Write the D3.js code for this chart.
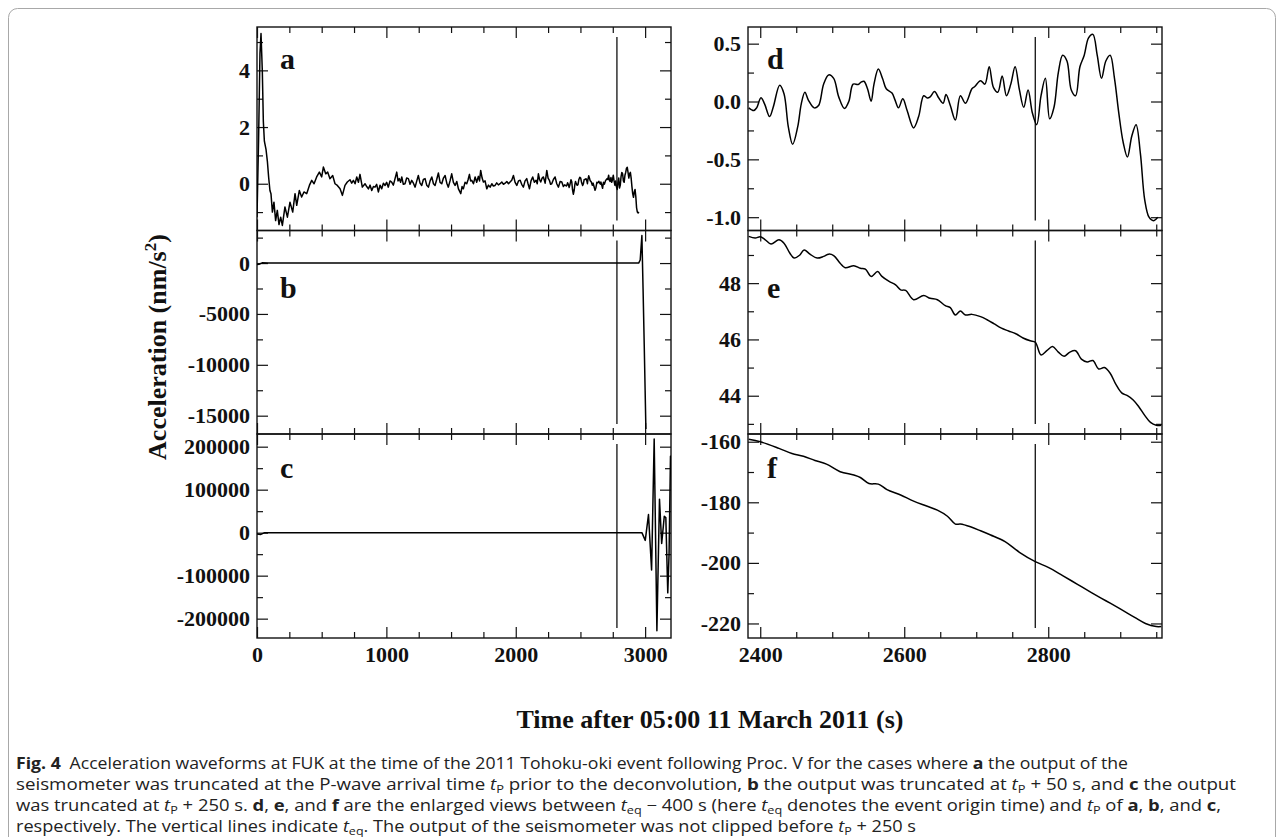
<!DOCTYPE html>
<html>
<head>
<meta charset="utf-8">
<script src="https://cdn.jsdelivr.net/npm/d3@7/dist/d3.min.js"></script>
<style>
  body { margin: 0; background: #fff; }
  .tick text { font-family: "Liberation Serif", "Times New Roman", serif; font-weight: bold; font-size: 22px; fill: #111; }
  .tick line { stroke: #111; stroke-width: 1.2; }
</style>
</head>
<body>
<svg id="fig" width="1284" height="837"></svg>
<script>
// time of event origin (s after 05:00)
const tEq = 2782;

// panel a, before the enlarged window (t, nm/s^2)
const traceAEarly = [
  [0, -1.18], [12, 1.5], [23, 4.6], [31, 5.3], [41, 4.0], [49, 2.2], [57, 1.5], [70, 1.2], [80, 0.8], [90, 0.23],
  [100, -0.24], [108, -0.35], [119, -1.0], [131, -0.65], [144, -1.3], [157, -0.94], [170, -1.44], [183, -1.18],
  [196, -1.47], [216, -0.82], [235, -1.18], [255, -0.65], [276, -1.0], [294, -0.35], [307, -0.76], [327, -0.24],
  [345, -0.47], [363, -0.29], [384, -0.35], [405, -0.06], [423, 0.12], [441, 0.0], [461, 0.24], [482, 0.41],
  [500, 0.24], [513, 0.59], [531, 0.35], [546, 0.41], [564, 0.18], [585, 0.29], [603, 0.0], [621, -0.06],
  [642, -0.18], [660, -0.41], [680, -0.06], [698, 0.06], [719, 0.14], [732, 0.02], [745, 0.12], [758, 0.0],
  [771, 0.24], [784, 0.05], [796, 0.33], [814, -0.12], [835, 0.0], [848, -0.1], [861, -0.18], [874, -0.05],
  [887, -0.24], [900, -0.1], [912, -0.12], [925, -0.02], [938, -0.29], [951, -0.05], [964, -0.18], [977, 0.02],
  [990, -0.06], [1002, 0.05], [1015, -0.12], [1028, 0.1], [1041, 0.06], [1054, -0.05], [1067, 0.18], [1080, 0.41],
  [1090, 0.1], [1100, 0.18], [1110, 0.05], [1119, 0.24], [1131, -0.02], [1144, 0.0], [1157, 0.2], [1170, 0.18],
  [1183, -0.02], [1196, 0.12], [1209, 0.02], [1222, -0.12], [1235, 0.1], [1247, 0.29], [1260, 0.02], [1273, -0.06],
  [1286, 0.15], [1299, 0.18], [1312, -0.05], [1325, -0.12], [1338, 0.1], [1351, 0.24], [1364, 0.0], [1376, -0.06],
  [1389, 0.15], [1402, 0.38], [1415, 0.05], [1428, 0.0], [1441, 0.2], [1454, 0.29], [1467, 0.02], [1479, -0.12],
  [1492, 0.1], [1505, 0.35], [1518, 0.05], [1531, -0.06], [1544, 0.08], [1557, -0.18], [1575, -0.35], [1585, -0.1],
  [1595, -0.18], [1608, 0.05], [1621, 0.0], [1632, 0.15], [1642, 0.33], [1651, 0.1], [1660, 0.12], [1673, 0.0],
  [1686, 0.24], [1698, 0.05], [1711, 0.26], [1720, 0.1], [1729, 0.47], [1740, 0.2], [1750, 0.06], [1763, 0.1],
  [1776, -0.18], [1789, -0.05], [1802, -0.12], [1815, 0.0], [1827, -0.08], [1840, -0.06], [1853, 0.03], [1866, -0.04],
  [1879, 0.0], [1892, 0.06], [1905, -0.02], [1918, 0.02], [1931, 0.08], [1944, 0.0], [1956, 0.06], [1969, 0.12],
  [1982, 0.29], [1995, 0.05], [2008, -0.06], [2021, 0.1], [2034, 0.12], [2046, -0.02], [2059, -0.12], [2072, 0.1],
  [2085, 0.18], [2095, 0.0], [2106, -0.18], [2118, 0.1], [2131, 0.24], [2144, 0.05], [2157, 0.12], [2166, 0.0],
  [2175, 0.35], [2184, 0.15], [2193, 0.06], [2204, 0.2], [2214, 0.24], [2227, 0.02], [2240, 0.47], [2250, 0.2],
  [2260, 0.12], [2269, -0.02], [2278, 0.0], [2291, 0.15], [2304, 0.24], [2317, 0.0], [2330, -0.12], [2343, 0.08],
  [2356, 0.06], [2368, -0.1], [2378, -0.04]
];

// panel d = a enlarged between tEq-400 s and tP
const traceD = [
  [2384, -0.055], [2391, -0.078], [2395, -0.055], [2401, 0.032], [2406, -0.02], [2413, -0.13], [2418, -0.05],
  [2427, 0.14], [2433, 0.067], [2439, -0.22], [2445, -0.37], [2452, -0.22], [2457, -0.02], [2462, 0.08],
  [2467, 0.01], [2475, -0.055], [2481, -0.035], [2488, 0.15], [2495, 0.23], [2502, 0.2], [2509, 0.04],
  [2517, -0.06], [2523, 0.0], [2529, 0.15], [2536, 0.147], [2540, 0.167], [2544, 0.175], [2549, 0.11],
  [2554, 0.003], [2558, 0.15], [2564, 0.28], [2570, 0.196], [2575, 0.11], [2583, 0.073], [2587, 0.016],
  [2592, -0.055], [2598, 0.023], [2604, -0.078], [2613, -0.228], [2620, -0.13], [2627, 0.05], [2632, 0.03],
  [2636, 0.04], [2642, 0.087], [2648, 0.03], [2654, -0.015], [2658, 0.06], [2664, -0.035], [2671, -0.16],
  [2678, 0.05], [2685, -0.015], [2694, 0.11], [2698, 0.13], [2706, 0.18], [2712, 0.15], [2718, 0.3],
  [2724, 0.12], [2730, 0.08], [2736, 0.22], [2742, 0.05], [2748, 0.15], [2754, 0.3], [2760, 0.1],
  [2766, -0.05], [2772, 0.1], [2778, -0.1], [2784, -0.2], [2790, 0.05], [2796, 0.2], [2802, -0.15],
  [2808, -0.05], [2814, 0.25], [2820, 0.4], [2826, 0.35], [2832, 0.1], [2838, 0.05], [2844, 0.3],
  [2850, 0.4], [2856, 0.55], [2862, 0.58], [2868, 0.4], [2874, 0.2], [2880, 0.35], [2886, 0.4],
  [2892, 0.2], [2898, -0.1], [2904, -0.35], [2910, -0.48], [2916, -0.3], [2922, -0.2], [2928, -0.45],
  [2934, -0.85], [2940, -1.0], [2946, -1.03], [2952, -1.0]
];

// panel b (truncated at tP + 50 s)
const traceB = [
  [0, -150], [15, -120], [40, 20], [90, 10], [300, 0], [2950, 0], [2962, 300], [2975, 2700],
  [2984, -2500], [2993, -8000], [3000, -12500], [3006, -16300]
];

// panel e = b enlarged
const traceE = [
  [2384, 49.66], [2393, 49.6], [2400, 49.65], [2407, 49.54], [2415, 49.39], [2426, 49.54], [2433, 49.42],
  [2441, 49.07], [2447, 48.89], [2455, 49.0], [2461, 49.18], [2469, 49.03], [2479, 48.89], [2488, 48.95],
  [2495, 49.03], [2502, 48.98], [2511, 48.71], [2518, 48.55], [2530, 48.62], [2539, 48.53], [2546, 48.5],
  [2554, 48.24], [2563, 48.41], [2569, 48.24], [2579, 48.06], [2588, 47.94], [2595, 47.76], [2602, 47.74],
  [2613, 47.41], [2627, 47.56], [2636, 47.46], [2646, 47.41], [2657, 47.2], [2664, 47.13], [2671, 46.87],
  [2678, 47.01], [2685, 46.87], [2694, 46.89], [2706, 46.81], [2715, 46.7], [2725, 46.55], [2735, 46.4],
  [2745, 46.3], [2755, 46.2], [2765, 46.05], [2775, 45.95], [2782, 45.9], [2790, 45.45], [2798, 45.6],
  [2806, 45.75], [2814, 45.55], [2822, 45.4], [2830, 45.55], [2838, 45.6], [2846, 45.3], [2854, 45.2],
  [2862, 45.25], [2870, 44.95], [2878, 45.0], [2886, 44.8], [2894, 44.4], [2902, 44.1], [2910, 44.0],
  [2918, 43.85], [2926, 43.6], [2934, 43.3], [2942, 43.05], [2950, 42.95], [2957, 42.95]
];

// panel c (truncated at tP + 250 s)
const traceC = [
  [0, -3000], [30, -4000], [60, 0], [2960, 0], [2975, 0], [3001, -18000], [3026, 42000], [3050, -87000],
  [3070, 218000], [3091, -228000], [3111, 78000], [3128, -25000], [3148, 38000], [3160, 35000],
  [3175, -140000], [3185, -50000], [3196, 178000], [3200, 178000]
];

// panel f = c enlarged
const traceF = [
  [2384, -159.2], [2400, -160.0], [2426, -162.2], [2444, -163.9], [2460, -164.8], [2476, -166.2],
  [2492, -167.4], [2511, -169.9], [2530, -171.0], [2539, -171.8], [2551, -173.8], [2564, -174.0],
  [2576, -175.8], [2595, -177.6], [2613, -179.6], [2632, -181.3], [2646, -182.6], [2660, -184.6],
  [2671, -187.2], [2678, -187.2], [2692, -188.1], [2706, -189.4], [2720, -190.8], [2740, -193.0],
  [2760, -196.5], [2782, -199.6], [2800, -201.5], [2820, -204.2], [2840, -207.0], [2860, -209.8],
  [2880, -212.5], [2900, -215.2], [2920, -218.0], [2935, -220.0], [2950, -221.0], [2957, -221.0]
];

// axis ranges and ticks
const xDomLeft = [0, 3200];
const xDomRight = [2383, 2958];
const xTicksLeft = [0, 1000, 2000, 3000];
const xMinorLeft = [250, 500, 750, 1250, 1500, 1750, 2250, 2500, 2750];
const xTicksRight = [2400, 2600, 2800];
const xMinorRight = [2450, 2500, 2550, 2650, 2700, 2750, 2850, 2900, 2950];

const yDomA = [-1.65, 5.53], yTicksA = [0, 2, 4], yMinorA = [-1, 1, 3, 5];
const yDomB = [-16800, 3200], yTicksB = [0, -5000, -10000, -15000], yMinorB = [2500, -2500, -7500, -12500];
const yDomC = [-245000, 229500], yTicksC = [200000, 100000, 0, -100000, -200000], yMinorC = [150000, 50000, -50000, -150000];
const yDomD = [-1.115, 0.644], yTicksD = [0.5, 0, -0.5, -1.0], yMinorD = [0.25, -0.25, -0.75];
const yDomE = [42.64, 49.87], yTicksE = [44, 46, 48], yMinorE = [43, 45, 47, 49];
const yDomF = [-224.8, -157.45], yTicksF = [-160, -180, -200, -220], yMinorF = [-170, -190, -210];

const caption = [
  [{t: 'Fig. 4', b: 1}, {t: '\u2002Acceleration waveforms at FUK at the time of the 2011 Tohoku-oki event following Proc. V for the cases where '}, {t: 'a', b: 1}, {t: ' the output of the'}],
  [{t: 'seismometer was truncated at the P-wave arrival time '}, {t: 't', i: 1}, {t: 'P', sub: 1}, {t: ' prior to the deconvolution, '}, {t: 'b', b: 1}, {t: ' the output was truncated at '}, {t: 't', i: 1}, {t: 'P', sub: 1}, {t: ' + 50 s, and '}, {t: 'c', b: 1}, {t: ' the output'}],
  [{t: 'was truncated at '}, {t: 't', i: 1}, {t: 'P', sub: 1}, {t: ' + 250 s. '}, {t: 'd', b: 1}, {t: ', '}, {t: 'e', b: 1}, {t: ', and '}, {t: 'f', b: 1}, {t: ' are the enlarged views between '}, {t: 't', i: 1}, {t: 'eq', sub: 1}, {t: ' \u2212 400 s (here '}, {t: 't', i: 1}, {t: 'eq', sub: 1}, {t: ' denotes the event origin time) and '}, {t: 't', i: 1}, {t: 'P', sub: 1}, {t: ' of '}, {t: 'a', b: 1}, {t: ', '}, {t: 'b', b: 1}, {t: ', and '}, {t: 'c', b: 1}, {t: ','}],
  [{t: 'respectively. The vertical lines indicate '}, {t: 't', i: 1}, {t: 'eq', sub: 1}, {t: '. The output of the seismometer was not clipped before '}, {t: 't', i: 1}, {t: 'P', sub: 1}, {t: ' + 250 s'}]
];
const captionWidth = [1112, 1220, 1205, 900];

const svg = d3.select('#fig');
const serif = '"Liberation Serif", "Times New Roman", serif';

// frame
svg.append('rect')
  .attr('x', 8.5).attr('y', 8.5).attr('width', 1267).attr('height', 850).attr('rx', 9)
  .attr('fill', 'none').attr('stroke', '#a8a8a8').attr('stroke-width', 1);

const xLeft = d3.scaleLinear().domain(xDomLeft).range([257, 671]);
const xRight = d3.scaleLinear().domain(xDomRight).range([748, 1162]);
const rows = [[27, 230.5], [230.5, 434], [434, 638]];

const fmtInt = d => String(d);
const fmt1 = d => d.toFixed(1);

const panels = [
  {key: 'a', x: xLeft, row: 0, dom: yDomA, ticks: yTicksA, minor: yMinorA, data: traceAEarly.concat(traceD), fmt: fmtInt, smooth: false},
  {key: 'b', x: xLeft, row: 1, dom: yDomB, ticks: yTicksB, minor: yMinorB, data: traceB, fmt: fmtInt, smooth: false},
  {key: 'c', x: xLeft, row: 2, dom: yDomC, ticks: yTicksC, minor: yMinorC, data: traceC, fmt: fmtInt, smooth: false},
  {key: 'd', x: xRight, row: 0, dom: yDomD, ticks: yTicksD, minor: yMinorD, data: traceD, fmt: fmt1, smooth: true},
  {key: 'e', x: xRight, row: 1, dom: yDomE, ticks: yTicksE, minor: yMinorE, data: traceE, fmt: fmtInt, smooth: true},
  {key: 'f', x: xRight, row: 2, dom: yDomF, ticks: yTicksF, minor: yMinorF, data: traceF, fmt: fmtInt, smooth: true}
];

panels.forEach(function (p) {
  let top = rows[p.row][0], bottom = rows[p.row][1];
  let left = p.x.range()[0], right = p.x.range()[1];
  let y = d3.scaleLinear().domain(p.dom).range([bottom, top]);
  let isLeft = p.x === xLeft;
  let xMajor = isLeft ? xTicksLeft : xTicksRight;
  let xMinor = isLeft ? xMinorLeft : xMinorRight;
  let g = svg.append('g').attr('class', 'panel-' + p.key);

  svg.append('clipPath').attr('id', 'clip-' + p.key)
    .append('rect').attr('x', left).attr('y', top).attr('width', right - left).attr('height', bottom - top);

  // inward ticks on all four sides
  let addAxis = function (axis, tx, ty) {
    let a = g.append('g').attr('transform', 'translate(' + tx + ',' + ty + ')').call(axis);
    a.select('.domain').remove();
    return a;
  };
  addAxis(d3.axisLeft(y).tickValues(p.ticks).tickSize(-11).tickPadding(7).tickFormat(p.fmt), left, 0);
  addAxis(d3.axisLeft(y).tickValues(p.minor).tickSize(-6).tickFormat(''), left, 0);
  addAxis(d3.axisRight(y).tickValues(p.ticks).tickSize(-11).tickFormat(''), right, 0);
  addAxis(d3.axisRight(y).tickValues(p.minor).tickSize(-6).tickFormat(''), right, 0);
  addAxis(d3.axisTop(p.x).tickValues(xMajor).tickSize(-11).tickFormat(''), 0, top);
  addAxis(d3.axisTop(p.x).tickValues(xMinor).tickSize(-6).tickFormat(''), 0, top);
  addAxis(d3.axisBottom(p.x).tickValues(xMajor).tickSize(-11).tickPadding(8)
    .tickFormat(p.row === 2 ? fmtInt : ''), 0, bottom);
  addAxis(d3.axisBottom(p.x).tickValues(xMinor).tickSize(-6).tickFormat(''), 0, bottom);

  g.append('rect')
    .attr('x', left).attr('y', top).attr('width', right - left).attr('height', bottom - top)
    .attr('fill', 'none').attr('stroke', '#111').attr('stroke-width', 1.4);

  // event origin time
  g.append('line')
    .attr('x1', p.x(tEq)).attr('x2', p.x(tEq))
    .attr('y1', top + 10).attr('y2', bottom - 10)
    .attr('stroke', '#111').attr('stroke-width', 1.3);

  let line = d3.line()
    .x(d => p.x(d[0]))
    .y(d => y(d[1]))
    .curve(p.smooth ? d3.curveCatmullRom.alpha(0.5) : d3.curveLinear);

  g.append('path')
    .datum(p.data)
    .attr('clip-path', 'url(#clip-' + p.key + ')')
    .attr('d', line)
    .attr('fill', 'none')
    .attr('stroke', '#000')
    .attr('stroke-width', 1.5)
    .attr('stroke-linejoin', 'round');

  let letterY = [68.5, 297.5, 478][p.row];
  g.append('text')
    .attr('x', left + (isLeft ? 23 : 19)).attr('y', letterY)
    .attr('font-family', serif).attr('font-weight', 'bold').attr('font-size', 30)
    .attr('fill', '#111')
    .text(p.key);
});

// axis titles
svg.append('text')
  .attr('transform', 'translate(166,347) rotate(-90)')
  .attr('text-anchor', 'middle')
  .attr('font-family', serif).attr('font-weight', 'bold').attr('font-size', 26).attr('fill', '#111')
  .call(t => {
    t.append('tspan').text('Acceleration (nm/s');
    t.append('tspan').attr('font-size', 17).attr('dy', -10).text('2');
    t.append('tspan').attr('dy', 10).text(')');
  });

svg.append('text')
  .attr('x', 710).attr('y', 728)
  .attr('text-anchor', 'middle')
  .attr('font-family', serif).attr('font-weight', 'bold').attr('font-size', 26).attr('fill', '#111')
  .text('Time after 05:00 11 March 2011 (s)');

// caption
const capFont = '"Open Sans", "Noto Sans", sans-serif';
const capBase = [769, 790, 811, 832];
caption.forEach(function (segs, li) {
  let t = svg.append('text')
    .attr('x', 16).attr('y', capBase[li])
    .attr('font-family', capFont).attr('font-size', 16).attr('fill', '#222')
    .attr('textLength', captionWidth[li]).attr('lengthAdjust', 'spacingAndGlyphs');
  segs.forEach(function (s, k) {
    let sp = t.append('tspan').text(s.t);
    if (s.b) sp.attr('font-weight', 'bold');
    if (s.i) sp.attr('font-style', 'italic');
    if (s.sub) sp.attr('font-size', 11).attr('dy', 3);
    else if (k > 0 && segs[k - 1].sub) sp.attr('dy', -3);
  });
});
</script>
</body>
</html>
